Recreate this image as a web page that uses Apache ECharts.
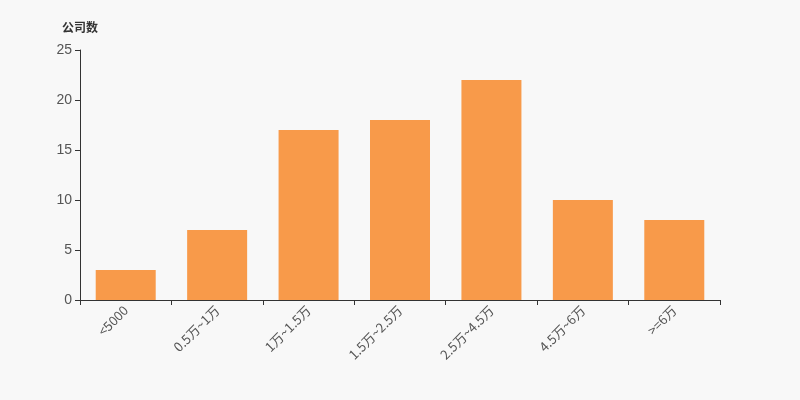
<!DOCTYPE html>
<html><head><meta charset="utf-8">
<script src="https://cdn.jsdelivr.net/npm/echarts@6/dist/echarts.min.js"></script>
<style>html,body{margin:0;padding:0;background:#f8f8f8;}#c{width:800px;height:400px;}</style>
</head><body><div id="c"></div>
<script>
const categories = ['<5000', '0.5万~1万', '1万~1.5万', '1.5万~2.5万', '2.5万~4.5万', '4.5万~6万', '>=6万'];
const values = [3, 7, 17, 18, 22, 10, 8];
const yTicks = { min: 0, max: 25, interval: 5 };
const chart = echarts.init(document.getElementById('c'));
chart.setOption({
  backgroundColor: '#f8f8f8',
  animation: false,
  grid: { left: 80, right: 80, top: 50, bottom: 100 },
  xAxis: {
    type: 'category', data: categories,
    axisLine: { lineStyle: { color: '#333' } },
    axisTick: { show: true, lineStyle: { color: '#333' } },
    axisLabel: { rotate: 45, color: '#555', fontSize: 13, fontFamily: 'Noto Sans CJK SC', interval: 0 }
  },
  yAxis: {
    type: 'value', min: yTicks.min, max: yTicks.max, interval: yTicks.interval,
    name: '公司数',
    nameTextStyle: { color: '#333', fontWeight: 'bold', fontSize: 12, fontFamily: 'Noto Sans CJK SC', padding: [0, 0, 2, 0] },
    axisLine: { show: true, lineStyle: { color: '#333' } },
    axisTick: { show: true, lineStyle: { color: '#333' } },
    splitLine: { show: false },
    axisLabel: { color: '#555', fontSize: 14, fontFamily: 'Liberation Sans' }
  },
  series: [{
    type: 'bar', data: values, barWidth: 60,
    itemStyle: { color: '#f89a4a' }
  }]
});
</script></body></html>
